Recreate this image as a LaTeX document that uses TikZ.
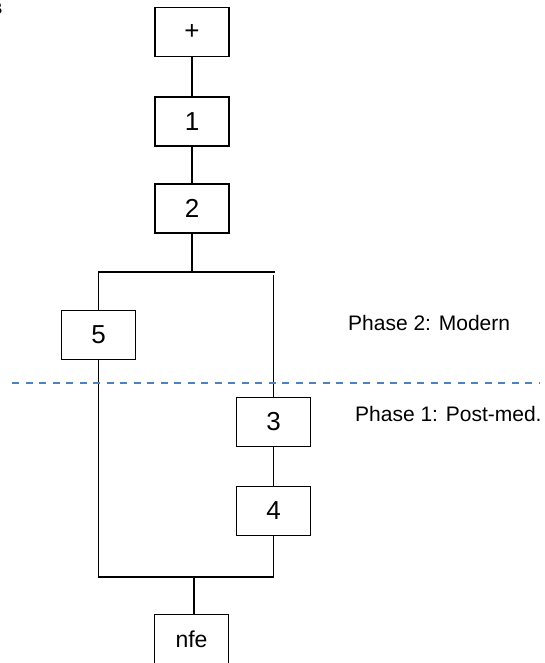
\documentclass[tikz,border=0pt]{standalone}
\usepackage{fontspec}
\setmainfont{Liberation Sans}
\definecolor{sepblue}{RGB}{79,129,189}
\begin{document}
\begin{tikzpicture}[x=1pt,y=1pt,
  box/.style={draw, line width=1.7pt, minimum width=74pt, minimum height=49pt, inner sep=0pt, font=\fontsize{26}{30}\selectfont},
  conn/.style={line width=1.7pt},
  phase/.style={font=\fontsize{21}{25}\selectfont, anchor=west, inner sep=0pt},
  sepline/.style={draw=sepblue, line width=1.8pt, dash pattern=on 7pt off 6.5pt}
]
\useasboundingbox (0,0) rectangle (545,-663);
% partial panel letter
\node[anchor=base east, inner sep=0pt, font=\fontsize{17}{20}\selectfont\bfseries] (letter) at (2.5,-15) {B};
% boxes
\node[box] (plus) at (192,-32) {+};
\node[box] (n1) at (192,-121.5) {1};
\node[box] (n2) at (192,-208.5) {2};
\node[box] (n5) at (98.5,-335) {5};
\node[box] (n3) at (273.5,-422) {3};
\node[box] (n4) at (273.5,-511) {4};
\node[box, font=\fontsize{23}{27}\selectfont] (nfe) at (191.5,-639) {nfe};
% junction coordinates
\coordinate (jtop) at (192,-272);
\coordinate (jtl) at (98.5,-272);
\coordinate (jtr) at (275,-272);
\coordinate (jrs) at (273.5,-275);
\coordinate (jbot) at (194,-577);
\coordinate (jbl) at (98.5,-577);
\coordinate (jbr) at (273.5,-577);
% connectors
\draw[conn] (plus) -- (n1);
\draw[conn] (n1) -- (n2);
\draw[conn] (n2.south) -- (jtop);
\draw[conn] (n5.north) -- (jtl) -- (jtr);
\draw[conn] (jrs) -- (n3.north);
\draw[conn] (n3) -- (n4);
\draw[conn] (n5.south) -- (jbl) -- (jbr) -- (n4.south);
\draw[conn] (jbot) -- (jbot |- nfe.north);
% phase separator
\coordinate (sepL) at (12,-383);
\coordinate (sepR) at (540,-383);
\draw[sepline] (sepL) -- (sepR);
% labels
\node[phase] (ph2) at (348,-323) {Phase 2: Modern};
\node[phase] (ph1) at (355,-414) {Phase 1: Post-med.};
\end{tikzpicture}
\end{document}
